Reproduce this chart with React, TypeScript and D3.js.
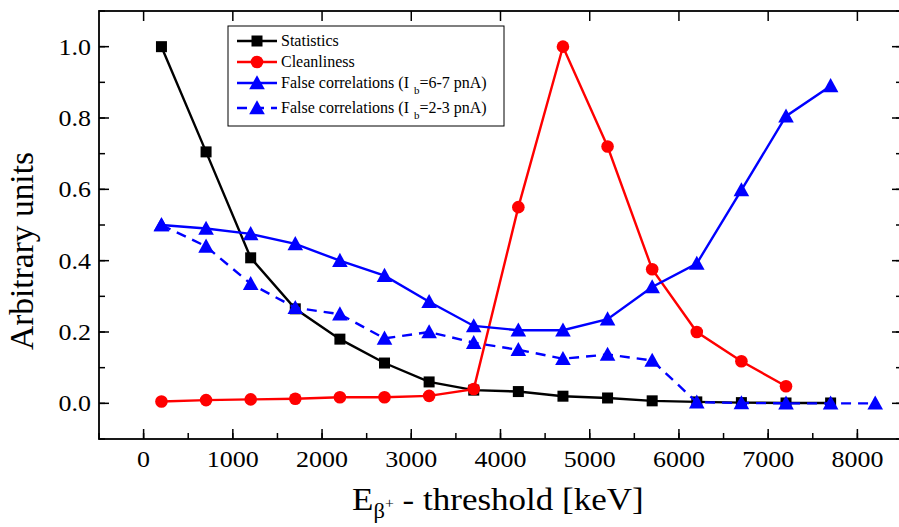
import React from "react";
import * as d3 from "d3";

const energies = [200, 700, 1200, 1700, 2200, 2700, 3200, 3700, 4200, 4700, 5200, 5700, 6200, 6700, 7200, 7700, 8200];
const statistics = [1.0, 0.705, 0.408, 0.265, 0.18, 0.113, 0.06, 0.037, 0.033, 0.02, 0.015, 0.007, 0.004, 0.002, 0.001, 0.001];
const cleanliness = [0.005, 0.009, 0.011, 0.013, 0.017, 0.017, 0.021, 0.04, 0.55, 1.0, 0.72, 0.376, 0.2, 0.118, 0.048];
const falseHigh = [0.5, 0.49, 0.475, 0.447, 0.4, 0.358, 0.285, 0.217, 0.205, 0.205, 0.236, 0.326, 0.392, 0.598, 0.805, 0.89];
const falseLow = [0.5, 0.44, 0.335, 0.268, 0.25, 0.182, 0.2, 0.17, 0.15, 0.125, 0.137, 0.12, 0.003, 0.001, 0.0, 0.0, 0.0];

const xTicks = [0, 1000, 2000, 3000, 4000, 5000, 6000, 7000, 8000];
const yTicks = [0.0, 0.2, 0.4, 0.6, 0.8, 1.0];

const W = 899;
const H = 527;
const L = 99, R = 902, T = 11, B = 439;
const FONT = "Liberation Serif";
const ts = { fontFamily: FONT };
const SX = 1.13;

type Marker = "square" | "circle" | "triangle";

function MarkerShape({ type, x, y, color }: { type: Marker; x: number; y: number; color: string }) {
  if (type === "square") return <rect x={x - 5.5} y={y - 5.5} width={11} height={11} fill={color} />;
  if (type === "circle") return <circle cx={x} cy={y} r={6.3} fill={color} />;
  const s = 7.8;
  return <path d={`M${x},${y - s}L${x + s},${y + s * 0.8}L${x - s},${y + s * 0.8}Z`} fill={color} />;
}

export default function App() {
  const x = d3.scaleLinear().domain([-500, 8500]).range([L, R]);
  const y = d3.scaleLinear().domain([-0.1, 1.1]).range([B, T]);

  const series: { values: number[]; color: string; marker: Marker; dash?: string }[] = [
    { values: statistics, color: "#000000", marker: "square" },
    { values: cleanliness, color: "#ff0000", marker: "circle" },
    { values: falseHigh, color: "#0000ff", marker: "triangle" },
    { values: falseLow, color: "#0000ff", marker: "triangle", dash: "10,7" },
  ];

  const line = d3
    .line<[number, number]>()
    .x((d) => x(d[0]))
    .y((d) => y(d[1]));

  const xMinor = d3.range(-500, 8501, 500);
  const yMinor = d3.range(-0.1, 1.101, 0.1);

  const legendItems = [
    { label: "Statistics", color: "#000000", marker: "square" as Marker },
    { label: "Cleanliness", color: "#ff0000", marker: "circle" as Marker },
    { label: "False correlations (I", sub: "b", rest: "=6-7 pnA)", color: "#0000ff", marker: "triangle" as Marker },
    { label: "False correlations (I", sub: "b", rest: "=2-3 pnA)", color: "#0000ff", marker: "triangle" as Marker, dash: "10,7" },
  ];
  const legendY = [41, 62, 83, 108];

  return (
    <svg width={W} height={H} style={{ position: "absolute", left: 0, top: 0, background: "#fff" }}>
      <rect x={0} y={0} width={W} height={H} fill="#fff" />
      {xMinor.map((v) => (
        <line key={"xb" + v} x1={x(v)} x2={x(v)} y1={B} y2={B - 6} stroke="#000" strokeWidth={1.5} />
      ))}
      {xTicks.map((v) => (
        <g key={"xt" + v}>
          <line x1={x(v)} x2={x(v)} y1={B} y2={B - 10} stroke="#000" strokeWidth={1.5} />
          <line x1={x(v)} x2={x(v)} y1={T} y2={T + 10} stroke="#000" strokeWidth={1.5} />
          <text transform={`translate(${x(v)},467) scale(${SX},1)`} textAnchor="middle" fontSize={23} style={ts}>
            {v}
          </text>
        </g>
      ))}
      {yMinor.map((v, i) => (
        <g key={"ym" + i}>
          <line x1={L} x2={L + 6} y1={y(v)} y2={y(v)} stroke="#000" strokeWidth={1.5} />
          <line x1={R} x2={R - 6} y1={y(v)} y2={y(v)} stroke="#000" strokeWidth={1.5} />
        </g>
      ))}
      {yTicks.map((v) => (
        <g key={"yt" + v}>
          <line x1={L} x2={L + 10} y1={y(v)} y2={y(v)} stroke="#000" strokeWidth={1.5} />
          <line x1={R} x2={R - 10} y1={y(v)} y2={y(v)} stroke="#000" strokeWidth={1.5} />
          <text transform={`translate(91,${y(v) + 8}) scale(${SX},1)`} textAnchor="end" fontSize={23} style={ts}>
            {v.toFixed(1)}
          </text>
        </g>
      ))}
      <rect x={L} y={T} width={R - L} height={B - T} fill="none" stroke="#000" strokeWidth={1.8} />

      {series.map((s, i) => {
        const pts: [number, number][] = s.values.map((v, j) => [energies[j], v]);
        return (
          <g key={"s" + i}>
            <path d={line(pts) || ""} fill="none" stroke={s.color} strokeWidth={2.4} strokeDasharray={s.dash} />
            {pts.map((p, j) => (
              <MarkerShape key={j} type={s.marker} x={x(p[0])} y={y(p[1])} color={s.color} />
            ))}
          </g>
        );
      })}

      <rect x={228} y={26} width={276} height={100} fill="#fff" stroke="#000" strokeWidth={1} />
      {legendItems.map((it, i) => (
        <g key={"lg" + i}>
          <line x1={237} x2={277} y1={legendY[i]} y2={legendY[i]} stroke={it.color} strokeWidth={2.4} strokeDasharray={it.dash} />
          <MarkerShape type={it.marker} x={257} y={legendY[i]} color={it.color} />
          <text x={281} y={legendY[i] + 5} fontSize={16} style={ts}>
            {it.label}
            {it.sub && (
              <>
                <tspan dx={5} dy={6} fontSize={11}>
                  {it.sub}
                </tspan>
                <tspan dy={-6} fontSize={16}>
                  {it.rest}
                </tspan>
              </>
            )}
          </text>
        </g>
      ))}

      <text
        transform="translate(33,251) rotate(-90)"
        textAnchor="middle"
        fontSize={33}
        textLength={198}
        lengthAdjust="spacingAndGlyphs"
        style={ts}
      >
        Arbitrary units
      </text>
      <text transform={`translate(352,510) scale(${SX},1)`} fontSize={31} style={ts}>
        E
        <tspan fontSize={20} dy={8}>β</tspan>
        <tspan fontSize={14} dy={-10}>+</tspan>
        <tspan fontSize={31} dy={2}> - threshold [keV]</tspan>
      </text>
    </svg>
  );
}
